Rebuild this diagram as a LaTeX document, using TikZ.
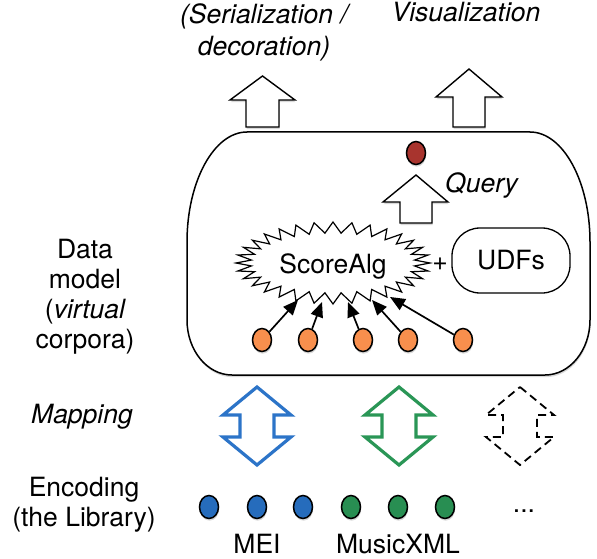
\documentclass[tikz,border=0pt]{standalone}
\usepackage{fontspec}
\setmainfont{TeX Gyre Heros}
\usetikzlibrary{shapes.geometric,shadows,arrows.meta}
\definecolor{dotorange}{RGB}{248,143,77}
\definecolor{dotred}{RGB}{168,52,46}
\definecolor{meiblue}{RGB}{38,108,188}
\definecolor{mxmlgreen}{RGB}{40,142,82}
\definecolor{meistroke}{RGB}{44,116,200}
\definecolor{mxmlstroke}{RGB}{42,150,86}
\begin{document}
\begin{tikzpicture}[x=1pt,y=-1pt,
  lab/.style={font=\fontsize{26.5}{30}\selectfont, inner sep=0pt},
  softshadow/.style={drop shadow={opacity=0.3, shadow xshift=0.6pt, shadow yshift=-2.2pt}},
  blockarrow/.style={draw=black, line width=1.4pt, fill=white, line join=miter, softshadow},
  item/.style={ellipse, draw=black, line width=1.5pt, minimum width=19pt, minimum height=23pt, inner sep=0pt, softshadow},
  ptr/.style={line width=1.7pt, -{Triangle[length=15pt,width=12.5pt]}},
  dblarrow/.pic={
    \path[pic actions, line join=miter] (0,-39) -- (34,-11) -- (17,-11) -- (17,11) -- (34,11) -- (0,39)
      -- (-34,11) -- (-17,11) -- (-17,-11) -- (-34,-11) -- cycle;
  }]
\useasboundingbox (0,0) rectangle (597,559);

% data model container
\path[draw=black, line width=1.5pt, fill=white, softshadow]
  (247,132) -- (530,132) .. controls (563,132) and (590,181.5) .. (590,242)
  -- (590,320) .. controls (590,350) and (570,375) .. (545,375)
  -- (232,375) .. controls (207,375) and (187,350) .. (187,320)
  -- (187,242) .. controls (187,181.5) and (214,132) .. (247,132) -- cycle;

% output arrows
\path[blockarrow] (262.5,76) -- (295,100) -- (279,100) -- (279,127) -- (246,127) -- (246,100) -- (230,100) -- cycle;
\path[blockarrow] (469,69) -- (502,97) -- (485,97) -- (485,127) -- (453,127) -- (453,97) -- (436,97) -- cycle;

\node[lab, align=center, font=\fontsize{26.5}{32}\selectfont] (ser) at (264,32) {\itshape (Serialization /\\\itshape decoration)};
\node[lab, anchor=base] (vis) at (466,22) {\itshape Visualization};

% query
\node[item, fill=dotred] (res) at (416,153) {};
\path[blockarrow] (416,175) -- (448,202) -- (432,202) -- (432,223) -- (400,223) -- (400,202) -- (383,202) -- cycle;
\node[lab, anchor=base west] (query) at (445,193) {\itshape Query};

% ScoreAlg burst
\path[draw=black, line width=1.2pt, fill=white]
  (333+97,263) \foreach \i in {1,...,63}{
    -- ({333+ifthenelse(mod(\i,2)==0,97,82)*cos(\i*5.625)},{263+ifthenelse(mod(\i,2)==0,41,30)*sin(\i*5.625)})
  } -- cycle;
\node[lab] (alg) at (333,266) {ScoreAlg};
\node[lab] (plus) at (440,264) {+};
\node[lab, draw=black, line width=1.3pt, rounded corners=28pt, minimum width=118pt, minimum height=65pt] (udf) at (511,260.5) {UDFs};

% corpus items feeding ScoreAlg
\coordinate (t1) at (298,300);
\coordinate (t2) at (322,302);
\coordinate (t3) at (348,302);
\coordinate (t4) at (372,300);
\coordinate (t5) at (390,297);
\foreach \n/\x in {1/262,2/308,3/363,4/408,5/463}{
  \node[item, fill=dotorange] (d\n) at (\x,340) {};
  \draw[ptr] (d\n) -- (t\n);
}

% mappings
\pic[draw=meistroke, fill=white, line width=3.2pt, softshadow] (mapmei) at (257,426) {dblarrow};
\pic[draw=mxmlstroke, fill=white, line width=3.2pt, softshadow] (mapmxml) at (399,426) {dblarrow};
\pic[draw=black, fill=white, line width=1.8pt, dash pattern=on 8pt off 5pt] (mapother) at (520,426) {dblarrow};

% encodings
\foreach \n/\x in {1/209,2/257,3/303}{
  \node[item, fill=meiblue] (m\n) at (\x,507) {};
}
\foreach \n/\x in {1/351,2/398,3/445}{
  \node[item, fill=mxmlgreen] (x\n) at (\x,507) {};
}
\node[lab, anchor=base] (more) at (524,512) {...};
\node[lab, anchor=base] (mei) at (257,553) {MEI};
\node[lab, anchor=base] (mxml) at (398,553) {MusicXML};

% layer labels
\node[lab, align=center] (lmodel) at (85,297) {Data\\model\\(\itshape virtual\\corpora)};
\node[lab, anchor=base] (lmap) at (82,423) {\itshape Mapping};
\node[lab, align=center] (lenc) at (84,505) {Encoding\\(the Library)};
\end{tikzpicture}
\end{document}
